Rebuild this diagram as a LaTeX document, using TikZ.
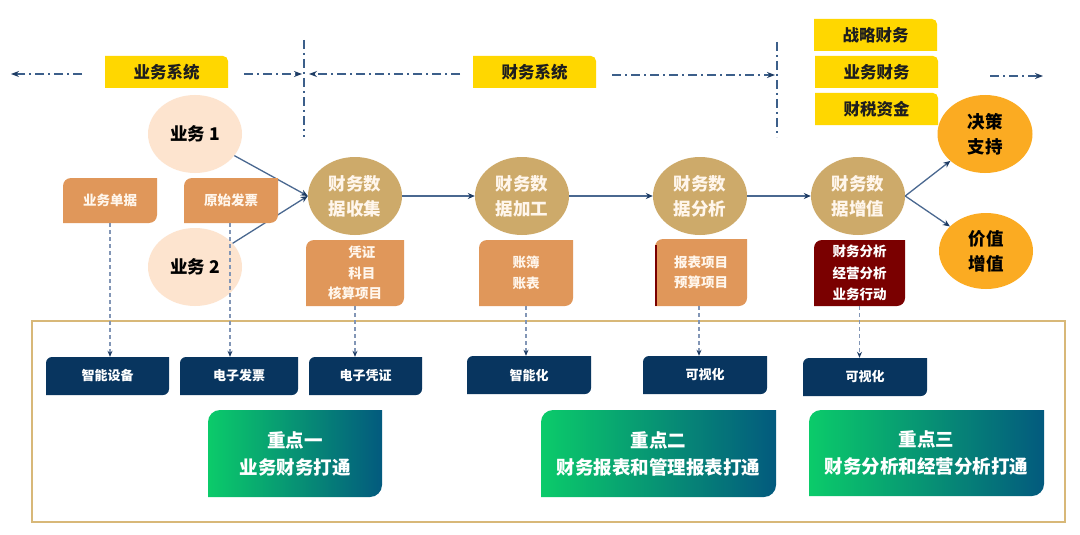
\documentclass[tikz,border=0pt]{standalone}
\usepackage{fontspec}
\setmainfont{Noto Sans CJK SC}
\usetikzlibrary{shapes.geometric,arrows.meta,calc}
\definecolor{ylw}{HTML}{FFD700}
\definecolor{org}{HTML}{E0975A}
\definecolor{gold}{HTML}{CDAA6A}
\definecolor{peach}{HTML}{FDE4CF}
\definecolor{navy}{HTML}{08355F}
\definecolor{dred}{HTML}{7A0000}
\definecolor{amber}{HTML}{FBAB22}
\definecolor{framec}{HTML}{D8B878}
\definecolor{lineb}{HTML}{4A6890}
\definecolor{dashb}{HTML}{8296B6}
\definecolor{arrowb}{HTML}{1E3C64}
\definecolor{ddc}{HTML}{3C5F8A}
\definecolor{gA}{HTML}{0BCB6A}
\definecolor{gB}{HTML}{07A676}
\definecolor{gC}{HTML}{035A7E}
\definecolor{txt}{HTML}{1E1E1E}
\definecolor{cream}{HTML}{FFF6EC}
% box with top-left and bottom-right rounded corners
\newcommand\rbox[9]{%
 \path[#7] (#2,#5) -- (#2,{#3+#6}) arc[start angle=180,end angle=270,radius=#6] -- (#4,#3) -- (#4,{#5-#6}) arc[start angle=0,end angle=90,radius=#6] -- cycle;
 \node[#8,inner sep=0pt,minimum width={(#4-#2)*1pt},minimum height={(#5-#3)*1pt}] (#1) at ({(#2+#4)/2},{(#3+#5)/2}) {#9};}
% box with top-right rounded corner
\newcommand\ybox[6]{%
 \path[fill=ylw] (#2,#3) -- ({#4-5},#3) arc[start angle=270,end angle=360,radius=5] -- (#4,#5) -- (#2,#5) -- cycle;
 \node[ytxt,inner sep=0pt,minimum width={(#4-#2)*1pt},minimum height={(#5-#3)*1pt}] (#1) at ({(#2+#4)/2},{(#3+#5)/2}) {#6};}
\begin{document}
\begin{tikzpicture}[x=1pt,y=-1pt,
  ytxt/.style={font=\fontsize{16.5}{20}\selectfont\bfseries,text=txt},
  ell/.style={ellipse,inner sep=0pt,minimum width=94pt,minimum height=78pt,font=\fontsize{17.5}{25}\selectfont\bfseries,align=center},
  otxt/.style={font=\fontsize{13.5}{20.5}\selectfont\bfseries,text=cream,align=center},
  ntxt/.style={font=\fontsize{13}{16}\selectfont\bfseries,text=white},
  gtxt/.style={font=\fontsize{18.5}{27}\selectfont\bfseries,text=white,align=center},
  flow/.style={draw=lineb,line width=1.3pt,-{Stealth[length=7pt,width=6pt,color=arrowb]}},
  dasharrow/.style={draw=dashb,line width=1.3pt,dash pattern=on 4pt off 3pt,-{Stealth[length=6pt,width=5pt,color=arrowb]}},
  dd/.style={draw=ddc,line width=1.6pt,dash pattern=on 9pt off 4pt on 2pt off 4pt},
  ddarrow/.style={dd,-{Stealth[length=8pt,width=6pt,color=arrowb]}}]
\useasboundingbox (0,0) rectangle (1080,535);
\fill[white] (0,0) rectangle (1080,535);

% frame
\draw[framec,line width=2.5pt] (32,321) rectangle (1065,522);

% top system labels and dash-dot lines
\ybox{ysys}{105}{56}{228}{88}{业务系统}
\ybox{csys}{473}{56}{596}{88}{财务系统}
\ybox{zlcw}{814}{19}{937}{51}{战略财务}
\ybox{ywcw}{815}{56}{938}{88}{业务财务}
\ybox{csjz}{815}{93}{938}{125}{财税资金}

\coordinate (v1t) at (304,40);
\coordinate (v1b) at (304,137);
\coordinate (v2t) at (777,42);
\coordinate (v2b) at (777,137);
\draw[dd,line width=2.2pt] (v1t) -- (v1b);
\draw[dd,line width=2.2pt] (v2t) -- (v2b);
\coordinate (h1s) at (82,74);   \coordinate (h1e) at (11,74);
\coordinate (h2s) at (244,74);  \coordinate (h2e) at (302,74);
\coordinate (h3s) at (460,74);  \coordinate (h3e) at (309,74);
\coordinate (h4s) at (612,75);  \coordinate (h4e) at (775,75);
\coordinate (h5s) at (990,76);  \coordinate (h5e) at (1043,76);
\draw[ddarrow] (h1s) -- (h1e);
\draw[ddarrow] (h2s) -- (h2e);
\draw[ddarrow] (h3s) -- (h3e);
\draw[ddarrow] (h4s) -- (h4e);
\draw[ddarrow] (h5s) -- (h5e);

% ellipses
\node[ell,fill=peach,text=black] (yw1) at (195,134) {业务 1};
\node[ell,fill=peach,text=black] (yw2) at (195,267) {业务 2};
\node[ell,fill=gold,text=cream] (c1) at (355,196) {财务数\\据收集};
\node[ell,fill=gold,text=cream] (c2) at (522,196) {财务数\\据加工};
\node[ell,fill=gold,text=cream] (c3) at (700,196) {财务数\\据分析};
\node[ell,fill=gold,text=cream] (c4) at (858,196) {财务数\\据增值};
\node[ell,fill=amber,text=black,minimum width=95pt] (jc) at (985,134) {决策\\支持};
\node[ell,fill=amber,text=black,minimum height=76pt] (jz) at (986,251) {价值\\增值};

% flow connectors
\draw[flow] (yw1) -- (c1.west);
\draw[flow] (yw2) -- (c1.west);
\draw[flow] (c1) -- (c2);
\draw[flow] (c2) -- (c3);
\draw[flow] (c3) -- (c4);
\draw[flow] (c4.east) -- (jc);
\draw[flow] (c4.east) -- (jz);

% orange / red boxes
\rbox{ywdj}{63}{178}{157}{223}{8}{fill=org}{otxt}{业务单据}
\rbox{ysfp}{184}{178}{278}{223}{8}{fill=org}{otxt}{原始发票}
\rbox{pz}{306}{240}{404}{306}{8}{fill=org}{otxt}{\hspace*{1em}凭证\\\hspace*{1em}科目\\核算项目}
\rbox{zb}{479}{240}{573}{306}{8}{fill=org}{otxt}{账簿\\账表}
\rbox{bb}{655}{239}{747}{306}{8}{fill=org}{otxt}{报表项目\\预算项目}
\draw[dred,line width=2pt] (656,245) -- (656,306);
\rbox{fx}{814}{240}{905}{306}{8}{fill=dred}{otxt,text=white,font=\fontsize{13.5}{21.5}\selectfont\bfseries}{财务分析\\经营分析\\业务行动}

% navy boxes
\rbox{n1}{46}{357}{169}{395}{6}{fill=navy}{ntxt}{智能设备}
\rbox{n2}{180}{357}{298}{395}{6}{fill=navy}{ntxt}{电子发票}
\rbox{n3}{309}{357}{422}{395}{6}{fill=navy}{ntxt}{电子凭证}
\rbox{n4}{467}{356}{591}{394}{6}{fill=navy}{ntxt}{智能化}
\rbox{n5}{643}{356}{767}{394}{6}{fill=navy}{ntxt}{可视化}
\rbox{n6}{803}{358}{927}{396}{6}{fill=navy}{ntxt}{可视化}

% dashed connectors
\draw[dasharrow] (ywdj.south) -- (ywdj.south |- n1.north);
\draw[dasharrow] ([xshift=-1pt]ysfp.south) -- ([xshift=-1pt]ysfp.south |- n2.north);
\draw[dasharrow] (pz.south) -- (pz.south |- n3.north);
\draw[dasharrow] (zb.south) -- (zb.south |- n4.north);
\draw[dasharrow] ([xshift=-2pt]bb.south) -- ([xshift=-2pt]bb.south |- n5.north);
\draw[dasharrow] (fx.south) -- (fx.south |- n6.north);

% green key-point boxes
\rbox{g1}{208}{410}{382}{497}{12}{left color=gA,middle color=gB,right color=gC}{gtxt}{重点一\\业务财务打通}
\rbox{g2}{541}{410}{776}{497}{12}{left color=gA,middle color=gB,right color=gC}{gtxt}{重点二\\财务报表和管理报表打通}
\rbox{g3}{809}{410}{1044}{496}{12}{left color=gA,middle color=gB,right color=gC}{gtxt}{重点三\\财务分析和经营分析打通}
\end{tikzpicture}
\end{document}
